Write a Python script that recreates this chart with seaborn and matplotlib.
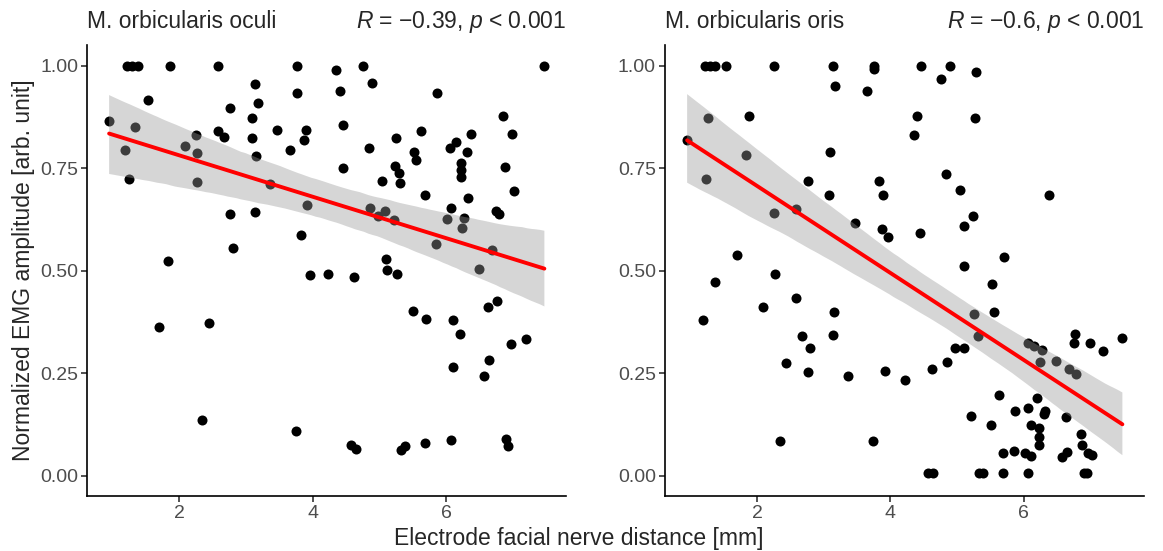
import numpy as np
import pandas as pd
import matplotlib
matplotlib.use("Agg")
import matplotlib.pyplot as plt
from matplotlib.collections import PolyCollection
import seaborn as sns

# Electrode-to-facial-nerve distance [mm] and normalized EMG amplitude, M. orbicularis oculi
oculi_dist = [
    1.21, 1.29, 1.38, 1.865, 2.574, 3.757, 3.128, 1.536, 3.757, 3.173,
    2.758, 3.093, 0.947, 1.336, 2.574, 2.669, 3.467, 3.896, 3.876, 3.083,
    2.245, 2.090, 1.187, 2.259, 3.652, 3.148, 1.251, 2.259, 3.357, 3.921,
    2.758, 3.133, 3.826, 2.798, 1.835, 3.966, 4.23, 1.691, 2.439, 2.344,
    3.742, 4.355, 4.754, 7.474, 4.405, 4.894, 5.857, 6.850, 4.450, 5.618,
    5.249, 6.985, 6.376, 4.839, 5.518, 5.553, 6.142, 6.052, 6.316, 4.450,
    5.234, 5.289, 6.231, 6.226, 6.226, 6.880, 5.034, 5.309, 7.015, 5.677,
    6.331, 6.067, 6.741, 6.786, 4.854, 4.979, 5.089, 5.214, 6.017, 6.266,
    6.236, 5.842, 6.695, 6.490, 5.104, 5.109, 5.264, 4.620, 6.766, 6.631,
    5.508, 5.693, 6.102, 6.202, 6.975, 7.194, 6.102, 6.646, 6.571, 4.580,
    4.655, 5.329, 5.378, 5.683, 6.072, 6.905, 6.935,
]
oculi_amp = [
    1.00, 1.00, 1.00, 1.00, 1.00, 1.00, 0.955, 0.916, 0.934, 0.908,
    0.897, 0.871, 0.864, 0.850, 0.840, 0.825, 0.843, 0.843, 0.819, 0.823,
    0.831, 0.803, 0.794, 0.787, 0.793, 0.779, 0.723, 0.715, 0.711, 0.659,
    0.638, 0.642, 0.586, 0.555, 0.523, 0.489, 0.491, 0.362, 0.372, 0.135,
    0.108, 0.989, 1.00, 1.00, 0.938, 0.957, 0.933, 0.877, 0.855, 0.840,
    0.822, 0.832, 0.832, 0.799, 0.788, 0.770, 0.814, 0.800, 0.789, 0.750,
    0.755, 0.739, 0.762, 0.746, 0.729, 0.753, 0.719, 0.713, 0.693, 0.685,
    0.676, 0.652, 0.646, 0.637, 0.652, 0.634, 0.646, 0.623, 0.626, 0.629,
    0.604, 0.564, 0.551, 0.504, 0.528, 0.502, 0.492, 0.484, 0.426, 0.410,
    0.401, 0.382, 0.379, 0.346, 0.321, 0.333, 0.265, 0.281, 0.243, 0.075,
    0.064, 0.063, 0.071, 0.080, 0.087, 0.089, 0.073,
]

# Same measurements for M. orbicularis oris
oris_dist = [
    1.217, 1.291, 1.376, 1.536, 2.250, 3.133, 3.756, 3.756, 3.173, 3.652,
    1.271, 1.875, 0.952, 3.093, 1.835, 1.242, 2.758, 3.831, 3.896, 3.083,
    2.259, 2.579, 3.467, 3.876, 3.966, 1.696, 2.264, 1.366, 1.192, 2.085,
    2.584, 3.153, 2.679, 3.138, 2.798, 2.439, 2.758, 3.362, 3.921, 4.22,
    2.339, 3.742, 4.455, 4.899, 4.754, 5.284, 4.405, 5.264, 4.355, 4.834,
    5.039, 6.376, 5.234, 5.099, 4.450, 5.698, 5.109, 5.518, 5.548, 5.249,
    5.309, 4.974, 5.099, 4.849, 4.625, 6.765, 6.750, 6.990, 7.195, 7.479,
    6.057, 6.147, 6.267, 6.241, 6.490, 6.685, 6.790, 5.623, 6.196, 6.057,
    5.868, 6.326, 6.311, 6.636, 5.214, 5.508, 6.102, 6.226, 6.226, 6.226,
    6.855, 6.880, 6.965, 7.025, 5.683, 5.848, 6.017, 6.107, 6.576, 6.651,
    4.570, 4.645, 5.334, 5.384, 5.683, 6.067, 6.905, 6.945,
]
oris_amp = [
    1.00, 1.00, 1.00, 1.00, 1.00, 1.00, 1.00, 0.991, 0.951, 0.938,
    0.873, 0.877, 0.819, 0.788, 0.782, 0.722, 0.719, 0.719, 0.685, 0.683,
    0.640, 0.650, 0.616, 0.601, 0.582, 0.537, 0.492, 0.472, 0.380, 0.410,
    0.434, 0.400, 0.341, 0.342, 0.312, 0.274, 0.253, 0.243, 0.256, 0.234,
    0.084, 0.084, 1.00, 1.00, 0.968, 0.984, 0.877, 0.873, 0.830, 0.736,
    0.697, 0.685, 0.634, 0.609, 0.591, 0.534, 0.512, 0.466, 0.399, 0.393,
    0.340, 0.312, 0.312, 0.276, 0.260, 0.345, 0.324, 0.323, 0.303, 0.335,
    0.324, 0.315, 0.306, 0.276, 0.280, 0.260, 0.247, 0.196, 0.190, 0.165,
    0.157, 0.158, 0.151, 0.142, 0.144, 0.123, 0.122, 0.115, 0.093, 0.074,
    0.101, 0.074, 0.056, 0.050, 0.054, 0.059, 0.054, 0.048, 0.044, 0.058,
    0.007, 0.007, 0.007, 0.007, 0.007, 0.007, 0.007, 0.007,
]

panel_titles = ["M. orbicularis oculi", "M. orbicularis oris"]
stat_labels = [r"$\it{R}$ = −0.39, $\it{p}$ < 0.001", r"$\it{R}$ = −0.6, $\it{p}$ < 0.001"]
y_ticks = [0.00, 0.25, 0.50, 0.75, 1.00]
x_ticks = [2, 4, 6]

sns.set_style("ticks")
plt.rcParams["font.family"] = ["Liberation Sans", "DejaVu Sans"]
plt.rcParams["mathtext.fontset"] = "custom"
plt.rcParams["mathtext.rm"] = "Liberation Sans"
plt.rcParams["mathtext.it"] = "Liberation Sans:italic"

TEXT_SIZE = 16.5

fig = plt.figure(figsize=(11.63, 5.51), dpi=100)
axes = [
    fig.add_axes([0.0751, 0.0998, 0.4120, 0.8185]),
    fig.add_axes([0.5718, 0.0998, 0.4120, 0.8185]),
]

all_x = np.array(oculi_dist + oris_dist)
span = all_x.max() - all_x.min()
xlim = (all_x.min() - 0.05 * span, all_x.max() + 0.05 * span)

datasets = [(oculi_dist, oculi_amp), (oris_dist, oris_amp)]
for ax, (xs, ys), title, stat in zip(axes, datasets, panel_titles, stat_labels):
    df = pd.DataFrame({"distance": xs, "amplitude": ys})
    sns.regplot(
        data=df, x="distance", y="amplitude", ax=ax,
        ci=95, n_boot=2000, seed=3,
        scatter_kws=dict(color="black", s=52, linewidths=0, alpha=1),
        line_kws=dict(color="#FF0000", lw=2.8),
    )
    # grey confidence ribbon laid over the points
    for coll in ax.collections:
        if isinstance(coll, PolyCollection):
            coll.set_facecolor("#999999")
            coll.set_alpha(0.4)
            coll.set_edgecolor("none")

    ax.set_xlim(*xlim)
    ax.set_ylim(-0.05, 1.05)
    ax.set_xticks(x_ticks)
    ax.set_yticks(y_ticks)
    ax.set_yticklabels([f"{v:.2f}" for v in y_ticks])
    ax.set_xlabel("")
    ax.set_ylabel("")
    sns.despine(ax=ax)
    for side in ("left", "bottom"):
        ax.spines[side].set_linewidth(1.2)
        ax.spines[side].set_color("black")
    ax.tick_params(axis="both", length=4, width=1.2, color="#333333",
                   labelsize=14, labelcolor="#4D4D4D", pad=2.5)
    ax.set_title(title, loc="left", fontsize=TEXT_SIZE, pad=12.5)
    ax.set_title(stat, loc="right", fontsize=TEXT_SIZE, pad=12.5)

axes[0].set_ylabel("Normalized EMG amplitude [arb. unit]", fontsize=TEXT_SIZE)
axes[0].yaxis.set_label_coords(-0.11, 0.5)
fig.text(0.498, 0.011, "Electrode facial nerve distance [mm]", fontsize=TEXT_SIZE,
         ha="center", va="baseline")

fig.savefig("out.png", dpi=100)
